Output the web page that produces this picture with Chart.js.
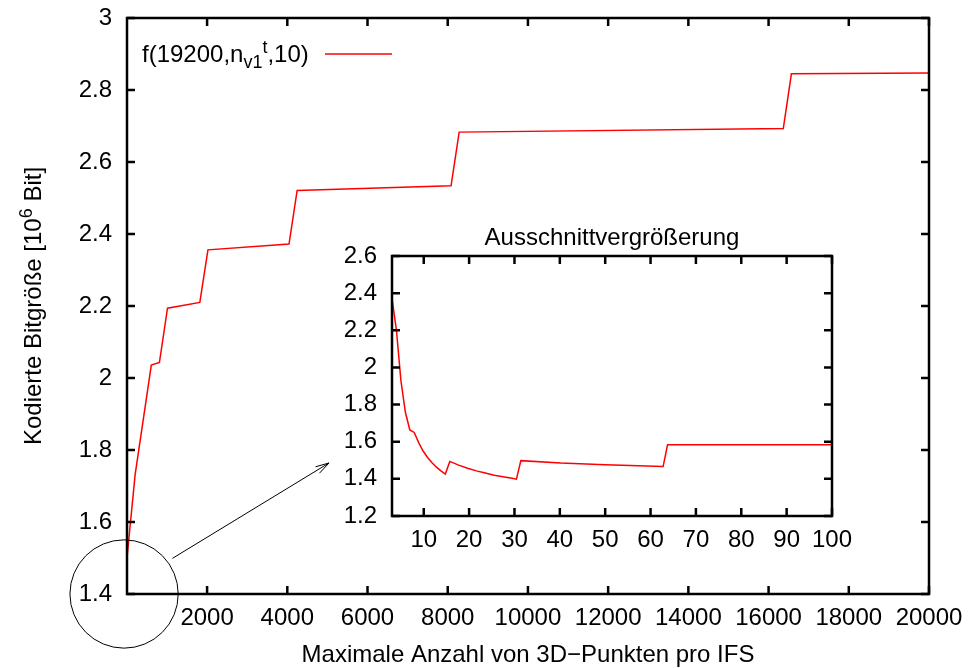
<!DOCTYPE html>
<html>
<head>
<meta charset="utf-8">
<script src="https://cdn.jsdelivr.net/npm/chart.js@4"></script>
<style>
  body { margin: 0; background: #fff; }
  #wrap { position: relative; width: 968px; height: 668px; }
  #main { position: absolute; left: 0; top: 0; }
  #zoom { position: absolute; left: 330px; top: 220px; }
</style>
</head>
<body>
<div id="wrap">
  <canvas id="main" width="968" height="668"></canvas>
  <canvas id="zoom" width="560" height="340"></canvas>
</div>
<script>
// Gesamtverlauf (Stützstellen)
const xMain = [3, 205, 609, 811, 1013, 1819, 2021, 4043, 4245, 8083, 8285, 16367, 16569, 20000];
const yMain = [1.50, 1.731, 2.036, 2.043, 2.194, 2.210, 2.356, 2.372, 2.521, 2.534, 2.683, 2.693, 2.845, 2.847];

// Ausschnitt 3..100
const xZoom = [3, 3.98, 4.96, 5.94, 6.92, 7.90, 8.88, 9.86, 10.84, 11.82, 12.80, 13.78, 14.76, 15.74,
               17.70, 19.65, 21.61, 23.57, 25.53, 27.49, 29.45, 30.43, 31.41, 40.23, 50.02, 62.77, 63.75, 100];
const yZoom = [2.37, 2.20, 1.93, 1.76, 1.663, 1.650, 1.595, 1.550, 1.515, 1.487, 1.463, 1.443, 1.426, 1.494,
               1.474, 1.457, 1.443, 1.431, 1.420, 1.411, 1.403, 1.398, 1.498, 1.485, 1.476, 1.466, 1.584, 1.584];

const xTicksMain = [2000, 4000, 6000, 8000, 10000, 12000, 14000, 16000, 18000, 20000];
const yTicksMain = [1.4, 1.6, 1.8, 2, 2.2, 2.4, 2.6, 2.8, 3];
const xTicksZoom = [10, 20, 30, 40, 50, 60, 70, 80, 90, 100];
const yTicksZoom = [1.2, 1.4, 1.6, 1.8, 2, 2.2, 2.4, 2.6];

const FAMILY = '"Liberation Sans", Arial, Helvetica, sans-serif';
const FONT = '24px ' + FAMILY;
const SMALL = '18px ' + FAMILY;

const fmt = v => String(+v.toFixed(1));

// gnuplot-artiger Rahmen: Ticks nach innen, gespiegelt, Beschriftung selbst gezeichnet
const gnuFrame = {
  id: 'gnuFrame',
  afterDatasetsDraw(chart, args, o) {
    const { ctx, chartArea: a } = chart;
    const x = chart.scales.x, y = chart.scales.y;
    ctx.save();
    ctx.strokeStyle = '#000';
    ctx.lineWidth = 2.5;
    ctx.beginPath();
    x.ticks.forEach(t => {
      const p = x.getPixelForValue(t.value);
      ctx.moveTo(p, a.bottom); ctx.lineTo(p, a.bottom - o.tick);
      ctx.moveTo(p, a.top); ctx.lineTo(p, a.top + o.tick);
    });
    y.ticks.forEach(t => {
      const p = y.getPixelForValue(t.value);
      ctx.moveTo(a.left, p); ctx.lineTo(a.left + o.tick, p);
      ctx.moveTo(a.right, p); ctx.lineTo(a.right - o.tick, p);
    });
    ctx.stroke();
    ctx.strokeRect(a.left, a.top, a.right - a.left, a.bottom - a.top);

    ctx.fillStyle = '#000';
    ctx.font = FONT;
    ctx.textAlign = 'center';
    ctx.textBaseline = 'middle';
    x.ticks.forEach(t => ctx.fillText(fmt(t.value), x.getPixelForValue(t.value), a.bottom + o.xGap));
    ctx.textAlign = 'right';
    y.ticks.forEach(t => ctx.fillText(fmt(t.value), a.left - o.yGap, y.getPixelForValue(t.value)));
    ctx.restore();
  }
};

// Text mit Hoch-/Tiefstellung, Teile: [text, 0|-1|1]
function richWidth(ctx, parts) {
  let w = 0;
  parts.forEach(([s, k]) => { ctx.font = k ? SMALL : FONT; w += ctx.measureText(s).width; });
  return w;
}
function drawRich(ctx, parts, x0, base) {
  let x = x0;
  ctx.textAlign = 'left';
  ctx.textBaseline = 'alphabetic';
  parts.forEach(([s, k]) => {
    ctx.font = k ? SMALL : FONT;
    const dy = k === 1 ? -9 : (k === -1 ? 6 : 0);
    ctx.fillText(s, x, base + dy);
    x += ctx.measureText(s).width;
  });
}

const mainDeco = {
  id: 'mainDeco',
  afterDraw(chart) {
    const { ctx, chartArea: a } = chart;
    const x = chart.scales.x, y = chart.scales.y;
    ctx.save();
    ctx.fillStyle = '#000';

    // Legende
    drawRich(ctx, [['f(19200,n', 0], ['v1', -1], ['t', 1], [',10)', 0]], 142, 62);
    ctx.strokeStyle = '#ff0000';
    ctx.lineWidth = 1.5;
    ctx.beginPath();
    ctx.moveTo(325, 54); ctx.lineTo(392, 54);
    ctx.stroke();

    // Achsentitel
    ctx.font = FONT;
    ctx.textAlign = 'center';
    ctx.textBaseline = 'middle';
    ctx.fillText('Maximale Anzahl von 3D\u2212Punkten pro IFS', (a.left + a.right) / 2, 655);

    const yt = [['Kodierte Bitgröße [10', 0], ['6', 1], [' Bit]', 0]];
    ctx.save();
    ctx.translate(33, (a.top + a.bottom) / 2);
    ctx.rotate(-Math.PI / 2);
    const w = richWidth(ctx, yt);
    drawRich(ctx, yt, -w / 2, 8);
    ctx.restore();

    // Kreis um den Ursprung und Pfeil zum Ausschnitt
    ctx.strokeStyle = '#000';
    ctx.lineWidth = 1;
    const cx = x.getPixelForValue(-70), cy = y.getPixelForValue(1.4);
    const r = x.getPixelForValue(1350) - x.getPixelForValue(0);
    ctx.beginPath();
    ctx.arc(cx, cy, r, 0, Math.PI * 2);
    ctx.stroke();

    const x1 = x.getPixelForValue(1136), y1 = y.getPixelForValue(1.499);
    const x2 = x.getPixelForValue(5041), y2 = y.getPixelForValue(1.764);
    const ang = Math.atan2(y2 - y1, x2 - x1);
    ctx.beginPath();
    ctx.moveTo(x1, y1); ctx.lineTo(x2, y2);
    [-1, 1].forEach(s => {
      ctx.moveTo(x2, y2);
      ctx.lineTo(x2 - 14 * Math.cos(ang + s * 0.27), y2 - 14 * Math.sin(ang + s * 0.27));
    });
    ctx.stroke();
    ctx.restore();
  }
};

const zoomDeco = {
  id: 'zoomDeco',
  afterDraw(chart) {
    const { ctx, chartArea: a } = chart;
    ctx.save();
    ctx.fillStyle = '#000';
    ctx.font = FONT;
    ctx.textAlign = 'center';
    ctx.textBaseline = 'alphabetic';
    ctx.fillText('Ausschnittvergrößerung', (a.left + a.right) / 2, 25);
    ctx.restore();
  }
};

function axis(min, max, ticks, fit) {
  return {
    type: 'linear',
    min, max,
    afterBuildTicks: s => { s.ticks = ticks.map(v => ({ value: v })); },
    afterFit: fit,
    ticks: { display: false },
    grid: { display: false },
    border: { display: false }
  };
}

function series(xs, ys) {
  return {
    data: xs.map((v, i) => ({ x: v, y: ys[i] })),
    borderColor: '#ff0000',
    borderWidth: 1.5,
    pointRadius: 0,
    tension: 0,
    fill: false
  };
}

new Chart(document.getElementById('main'), {
  type: 'line',
  data: { datasets: [series(xMain, yMain)] },
  options: {
    responsive: false,
    animation: false,
    events: [],
    layout: { padding: { left: 0, top: 18, right: 39, bottom: 0 } },
    scales: {
      x: axis(3, 20000, xTicksMain, s => { s.height = 74; }),
      y: axis(1.4, 3, yTicksMain, s => { s.width = 127; })
    },
    plugins: {
      legend: { display: false },
      tooltip: { enabled: false },
      gnuFrame: { tick: 8, xGap: 24, yGap: 15 }
    }
  },
  plugins: [gnuFrame, mainDeco]
});

new Chart(document.getElementById('zoom'), {
  type: 'line',
  data: { datasets: [series(xZoom, yZoom)] },
  options: {
    responsive: false,
    animation: false,
    events: [],
    layout: { padding: { left: 0, top: 36, right: 58, bottom: 0 } },
    scales: {
      x: axis(3, 100, xTicksZoom, s => { s.height = 44; }),
      y: axis(1.2, 2.6, yTicksZoom, s => { s.width = 62; })
    },
    plugins: {
      legend: { display: false },
      tooltip: { enabled: false },
      gnuFrame: { tick: 8, xGap: 24, yGap: 15 }
    }
  },
  plugins: [gnuFrame, zoomDeco]
});
</script>
</body>
</html>
